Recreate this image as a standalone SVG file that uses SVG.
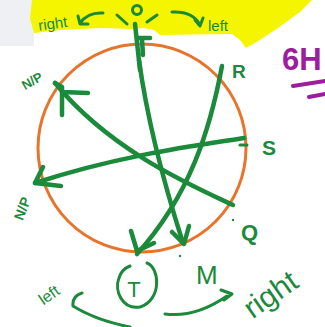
<svg xmlns="http://www.w3.org/2000/svg" width="325" height="327" viewBox="0 0 325 327">
<style>
.g{fill:none;stroke:#1b8a3b;stroke-width:4.5;stroke-linecap:round;stroke-linejoin:round}
.gt{fill:none;stroke:#1b8a3b;stroke-width:3;stroke-linecap:round;stroke-linejoin:round}
.lbl{fill:#1b8a3b;font-family:"Liberation Sans",Arial,sans-serif;font-weight:bold}
.n{font-weight:normal}
.p{fill:none;stroke:#9c1e9e;stroke-width:4;stroke-linecap:round}
</style>
<rect width="325" height="327" fill="#ffffff"/>
<rect x="0" y="0" width="34" height="46" fill="#eef0f4"/>
<polygon points="32,0 312,0 300,12 278,28 260,40 246,48 240,40 232,34 160,35 154,30 144,28 132,29 100,28 60,30 34,33 30,18" fill="#f5f500"/>
<circle cx="142" cy="148" r="104" fill="none" stroke="#e8742c" stroke-width="3"/>

<g id="top-figure">
<circle cx="137" cy="10" r="4.5" class="gt"/>
<path class="gt" d="M117,15 L127,24 M147,22 L157,15"/>
<path class="g" d="M135,24 L140,70 M137,38 L150,38 M142,40 L143,55"/>
<text class="lbl n" x="38" y="28" font-size="15" transform="rotate(-8 58 22)">right</text>
<path class="gt" d="M103,13 Q88,12 80,23 M78,16 L80,24 L88,24"/>
<path class="gt" d="M172,12 Q193,11 200,25 M195,20 L200,26 L203,18"/>
<text class="lbl n" x="208" y="31" font-size="15">left</text>
</g>

<g id="label-6h">
<text x="282" y="70" font-size="31" font-weight="bold" fill="#9c1e9e" font-family="Liberation Sans,Arial,sans-serif">6H</text>
<path class="p" d="M293,86 L325,81 M309,97 L325,94"/>
</g>

<g id="node-R"><text class="lbl" x="232" y="78" font-size="19">R</text></g>
<g id="node-S"><text class="lbl" x="262" y="155" font-size="21">S</text><path class="gt" d="M240,145 L247,145"/></g>
<g id="node-Q"><text class="lbl" x="241" y="240" font-size="22">Q</text><circle cx="233" cy="220" r="1.2" fill="#1b8a3b"/></g>
<g id="node-NP-top"><text class="lbl" x="20" y="84" font-size="13" transform="rotate(-30 34 78)">N/P</text></g>
<g id="node-NP-left"><text class="lbl" x="8" y="212" font-size="14" transform="rotate(-70 22 206)">N/P</text></g>
<g id="node-T">
<path class="gt" d="M147,263 C160,268 162,300 140,307 C122,310 114,290 119,278 C121,271 125,268 130,266"/>
<text class="lbl n" x="134" y="297" font-size="22" text-anchor="middle">T</text>
</g>
<g id="node-M"><text class="lbl n" x="196" y="284" font-size="26">M</text><circle cx="180" cy="256" r="1.2" fill="#1b8a3b"/></g>
<g id="label-left"><text class="lbl n" x="36" y="294" font-size="16" transform="rotate(-35 58 288)">left</text></g>
<g id="label-right"><text class="lbl n" x="240" y="300" font-size="30" transform="rotate(-35 277 290)">right</text></g>

<g id="connectors">
<path class="g" d="M139,60 Q150,140 183,243"/>
<path class="g" d="M172,232 L184,244 L189,226"/>
<path class="g" d="M222,66 C210,130 190,195 137,254"/>
<path class="g" d="M131,231 L137,251 L154,243"/>
<path class="g" d="M233,205 C190,185 110,150 55,83"/>
<path class="g" d="M62,115 L62,87 L55,83 M62,92 L88,93"/>
<path class="g" d="M244,138 C200,145 120,155 35,183"/>
<path class="g" d="M43,167 L35,183 L61,186"/>
<path class="gt" d="M82,293 Q72,296 73,306 Q95,320 130,327"/>
<path class="gt" d="M165,314 Q195,318 227,296 M221,290 L232,294 L224,300"/>
</g>
</svg>
